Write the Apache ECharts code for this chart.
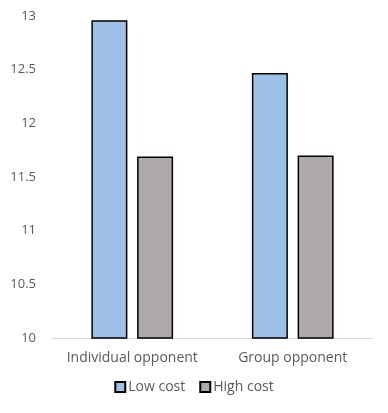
<!DOCTYPE html>
<html><head><meta charset="utf-8">
<script src="https://cdn.jsdelivr.net/npm/echarts@6/dist/echarts.min.js"></script>
<style>html,body{margin:0;padding:0;background:#fff}#c{width:388px;height:413px}</style>
</head><body><div id="c"></div>
<script>
var categories = ['Individual opponent', 'Group opponent'];
var seriesNames = ['Low cost', 'High cost'];
var lowCost = [12.96, 12.47];
var highCost = [11.69, 11.70];
var yTicks = [10, 10.5, 11, 11.5, 12, 12.5, 13];

var chart = echarts.init(document.getElementById('c'));
var font = '"Open Sans", "Liberation Sans", sans-serif';
chart.setOption({
  animation: false,
  textStyle: {fontFamily: font},
  grid: {left: 52, right: 15, top: 16, bottom: 75, containLabel: false},
  legend: {
    data: seriesNames, bottom: 14, left: 'center',
    itemWidth: 10, itemHeight: 10, itemGap: 14,
    icon: 'rect',
    textStyle: {color: '#595959', fontSize: 14, fontFamily: font, padding: [0,0,0,-2]}
  },
  xAxis: {
    type: 'category', data: categories,
    axisLine: {lineStyle: {color: '#d9d9d9', width: 1}},
    axisTick: {show: false},
    axisLabel: {color: '#595959', fontSize: 14, margin: 13, fontFamily: font, interval: 0, hideOverlap: false}
  },
  yAxis: {
    type: 'value', min: yTicks[0], max: yTicks[yTicks.length-1], interval: 0.5,
    splitLine: {show: false},
    axisLine: {show: false}, axisTick: {show: false},
    axisLabel: {color: '#595959', fontSize: 13, margin: 16, fontFamily: font,
      formatter: function(v){ return String(v); }}
  },
  series: [
    {name: seriesNames[0], type: 'bar', data: lowCost, barWidth: 36, barGap: '27%',
     itemStyle: {color: '#9dc0e6', borderColor: '#000', borderWidth: 1.5}},
    {name: seriesNames[1], type: 'bar', data: highCost, barWidth: 36,
     itemStyle: {color: '#aeaaaa', borderColor: '#000', borderWidth: 1.5}}
  ]
});
</script></body></html>
